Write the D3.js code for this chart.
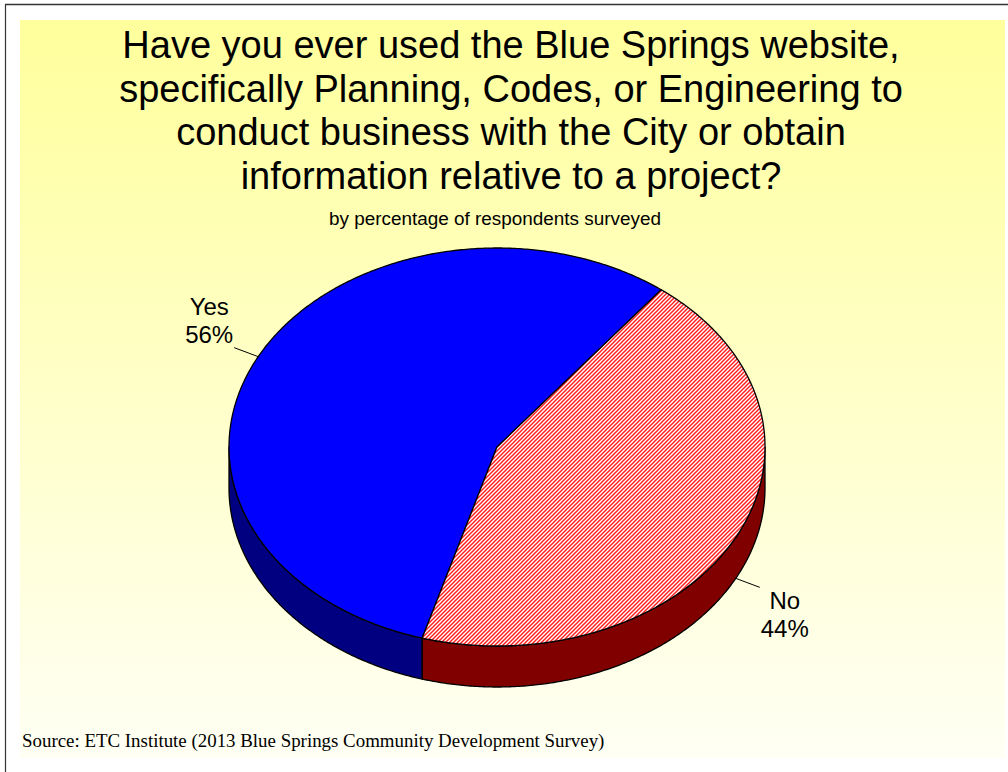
<!DOCTYPE html>
<html><head><meta charset="utf-8">
<script src="https://cdn.jsdelivr.net/npm/d3@7"></script>
<style>html,body{margin:0;padding:0;background:#fff;}svg{display:block;}</style>
</head><body>
<svg id="chart" width="1008" height="772"></svg>
<script>
const categories = ["Yes", "No"];
const values = [56, 44];
const labelTexts = ["56%", "44%"];
const titleLines = [
  "Have you ever used the Blue Springs website,",
  "specifically Planning, Codes, or Engineering to",
  "conduct business with the City or obtain",
  "information relative to a project?"
];
const subtitle = "by percentage of respondents surveyed";
const source = "Source: ETC Institute (2013 Blue Springs Community Development Survey)";
const topColors = ["#0000ff", "url(#hatch)"];
const sideColors = ["#000080", "#800000"];

const svg = d3.select("#chart");
const defs = svg.append("defs");
const grad = defs.append("linearGradient").attr("id", "bg").attr("x1", 0).attr("y1", 0).attr("x2", 0).attr("y2", 1);
grad.append("stop").attr("offset", "0%").attr("stop-color", "#ffff9c");
grad.append("stop").attr("offset", "100%").attr("stop-color", "#fffff4");
const pat = defs.append("pattern").attr("id", "hatch").attr("patternUnits", "userSpaceOnUse")
  .attr("width", 4).attr("height", 4);
pat.append("rect").attr("width", 4).attr("height", 4).attr("fill", "#fff");
pat.append("path").attr("d", "M-1,1 l2,-2 M0,4 l4,-4 M3,5 l2,-2").attr("stroke", "#ff2020").attr("stroke-width", 1.5);

// frame
svg.append("rect").attr("x", 20).attr("y", 20).attr("width", 985).attr("height", 738).attr("fill", "url(#bg)");
svg.append("line").attr("x1", 5).attr("x2", 1008).attr("y1", 4.5).attr("y2", 4.5).attr("stroke", "#333").attr("stroke-width", 1.5);
svg.append("line").attr("x1", 5.5).attr("x2", 5.5).attr("y1", 4).attr("y2", 772).attr("stroke", "#333").attr("stroke-width", 1.2);

// title
const title = svg.append("text").attr("text-anchor", "middle").attr("font-family", "Liberation Sans, Arial, sans-serif")
  .attr("font-size", 38).attr("fill", "#000");
titleLines.forEach((t, i) => title.append("tspan").attr("x", 511).attr("y", 58 + i * 43.5).text(t));
svg.append("text").attr("x", 495).attr("y", 225).attr("text-anchor", "middle")
  .attr("font-family", "Liberation Sans, Arial, sans-serif").attr("font-size", 18.9).text(subtitle);
svg.append("text").attr("x", 22).attr("y", 747).attr("font-family", "Liberation Serif, Times New Roman, serif")
  .attr("font-size", 18.9).text(source);

// 3D pie
const cx = 497, cy = 447, rx = 268, ry = 199, depth = 41;
const deg = Math.PI / 180;
const pie = d3.pie().sort(null).startAngle(196.2 * deg).endAngle(196.2 * deg + 2 * Math.PI);
const arcs = pie(values);
const px = a => cx + rx * Math.sin(a);
const py = a => cy - ry * Math.cos(a);
const line = d3.line();
function samples(a0, a1) {
  const n = Math.max(2, Math.ceil(Math.abs(a1 - a0) / (0.5 * deg)));
  return d3.range(n + 1).map(i => a0 + (a1 - a0) * i / n);
}
const g = svg.append("g");
// sides (front half: 90..270 deg, plus +360 shift)
arcs.forEach((d, i) => {
  [[90, 270], [450, 630]].forEach(([s, e]) => {
    const a0 = Math.max(d.startAngle, s * deg), a1 = Math.min(d.endAngle, e * deg);
    if (a1 <= a0) return;
    const top = samples(a0, a1).map(a => [px(a), py(a)]);
    const bot = samples(a1, a0).map(a => [px(a), py(a) + depth]);
    g.append("path").attr("d", line(top.concat(bot)) + "Z")
      .attr("fill", sideColors[i]).attr("stroke", "#000").attr("stroke-width", 1.3).attr("stroke-linejoin", "round");
  });
});
// tops
arcs.forEach((d, i) => {
  const pts = [[cx, cy]].concat(samples(d.startAngle, d.endAngle).map(a => [px(a), py(a)]));
  g.append("path").attr("d", line(pts) + "Z").attr("fill", topColors[i])
    .attr("stroke", "#000").attr("stroke-width", 1.3).attr("stroke-linejoin", "round");
});
// labels
arcs.forEach((d, i) => {
  const m = (d.startAngle + d.endAngle) / 2;
  const front = Math.cos(m) < 0;
  const ax = px(m), ay = py(m) + (front ? depth : 0);
  const dir = Math.sin(m) < 0 ? -1 : 1;
  const bx = ax + dir * 24, by = ay + (front ? 9 : -9);
  svg.append("line").attr("x1", ax).attr("y1", ay).attr("x2", bx).attr("y2", by).attr("stroke", "#000").attr("stroke-width", 1);
  const tx = bx + dir * 25;
  const y0 = front ? by + 22 : by - 33;
  const t = svg.append("text").attr("text-anchor", "middle").attr("font-family", "Liberation Sans, Arial, sans-serif")
    .attr("font-size", 24);
  t.append("tspan").attr("x", tx).attr("y", y0).text(categories[i]);
  t.append("tspan").attr("x", tx).attr("y", y0 + 28).text(labelTexts[i]);
});
</script>
</body></html>
